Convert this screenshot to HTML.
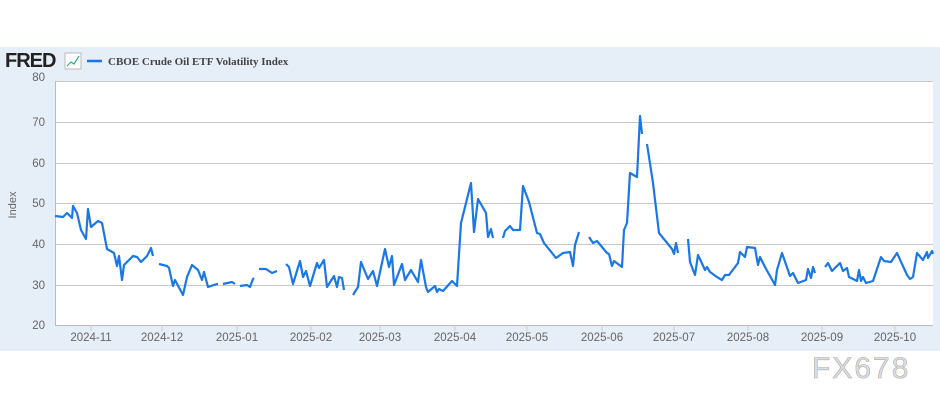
<!DOCTYPE html>
<html><head><meta charset="utf-8"><style>
body{margin:0;width:940px;height:400px;background:#fff;overflow:hidden;font-family:"Liberation Sans",sans-serif;}
</style></head><body>
<svg width="940" height="400" xmlns="http://www.w3.org/2000/svg" style="position:absolute;left:0;top:0">
<rect x="0" y="47" width="940" height="304" fill="#e6eef7"/>
<rect x="55" y="81" width="878" height="244" fill="#fff"/>
<g stroke="#c8c8c8" stroke-width="1">
<line x1="55" x2="933" y1="81.5" y2="81.5"/><line x1="55" x2="933" y1="122.5" y2="122.5"/>
<line x1="55" x2="933" y1="163.5" y2="163.5"/><line x1="55" x2="933" y1="203.5" y2="203.5"/>
<line x1="55" x2="933" y1="244.5" y2="244.5"/><line x1="55" x2="933" y1="285.5" y2="285.5"/>
</g>
<line x1="55.5" x2="55.5" y1="81" y2="325" stroke="#bbb"/>
<line x1="55" x2="933" y1="325.5" y2="325.5" stroke="#bbb"/>
<g stroke="#ccc"><line x1="91" x2="91" y1="325" y2="331"/><line x1="162" x2="162" y1="325" y2="331"/><line x1="237" x2="237" y1="325" y2="331"/><line x1="311" x2="311" y1="325" y2="331"/><line x1="380" x2="380" y1="325" y2="331"/><line x1="455" x2="455" y1="325" y2="331"/><line x1="527" x2="527" y1="325" y2="331"/><line x1="602" x2="602" y1="325" y2="331"/><line x1="674" x2="674" y1="325" y2="331"/><line x1="748" x2="748" y1="325" y2="331"/><line x1="822" x2="822" y1="325" y2="331"/><line x1="895" x2="895" y1="325" y2="331"/></g>
<g font-size="11.5" fill="#666" text-anchor="end">
<text x="45" y="81">80</text><text x="45" y="126">70</text><text x="45" y="167">60</text><text x="45" y="207">50</text><text x="45" y="248">40</text><text x="45" y="289">30</text><text x="45" y="329">20</text></g>
<text transform="translate(16,205) rotate(-90)" font-size="11" fill="#666" text-anchor="middle">Index</text>
<g font-size="11.5" fill="#666" text-anchor="middle">
<text x="91" y="341">2024-11</text><text x="162" y="341">2024-12</text><text x="237" y="341">2025-01</text><text x="311" y="341">2025-02</text><text x="380" y="341">2025-03</text><text x="455" y="341">2025-04</text><text x="527" y="341">2025-05</text><text x="602" y="341">2025-06</text><text x="674" y="341">2025-07</text><text x="748" y="341">2025-08</text><text x="822" y="341">2025-09</text><text x="895" y="341">2025-10</text></g>
<text x="5" y="67" font-size="20" font-weight="bold" fill="#222" letter-spacing="-1">FRED</text>
<rect x="65" y="53" width="16" height="16" fill="#fff" stroke="#bbb"/>
<polyline points="67,66 71,62 74,64 79,56" fill="none" stroke="#3a9" stroke-width="1.2"/>
<line x1="87" x2="102" y1="61" y2="61" stroke="#1a73e8" stroke-width="2.5"/>
<text x="108" y="65" font-family="Liberation Serif" font-weight="bold" font-size="11" fill="#444">CBOE Crude Oil ETF Volatility Index</text>
<g fill="none" stroke="#1a78e6" stroke-width="2.2" stroke-linejoin="round">
<polyline points="55,216 63,217 67,213 72,218 73,206 77,213 81,230 86,239 88,209 91,227 98,221 102,223 107,249 114,253 117,266 119,256 122,280 124,265 133,256 137,257 141,262 147,256 151,248 153,256"/>
<polyline points="159,264 167,266 169,268 173,286 175,280 183,295 187,277 192,265 198,270 202,280 204,272 208,287 217,284 218,284"/>
<polyline points="223,284 232,282 235,284"/>
<polyline points="240,286 247,285 250,287 253,279 254,278"/>
<polyline points="259,269 266,269 272,273 277,271"/>
<polyline points="286,264 289,267 293,284 300,261 303,277 306,271 310,286 317,263 319,268 324,260 327,287 334,276 337,287 339,277 342,278 344,290"/>
<polyline points="353,295 358,287 361,262 368,279 373,271 377,286 385,249 389,267 392,256 394,285 402,264 405,280 411,270 418,282 421,260 426,287 428,292 435,286 437,292 439,289 443,291 452,281 457,286 461,223 471,183 474,232 478,199 486,213 488,237 491,229 493,238"/>
<polyline points="503,238 505,231 510,226 513,230 520,230 523,186 529,202 537,233 540,234 544,243 556,258 563,253 570,252 573,266 575,245 579,232"/>
<polyline points="589,237 593,243 597,241 607,253 609,254 612,266 614,261 622,267 624,230 627,223 630,173 637,177 640,116 642,134"/>
<polyline points="647,144 653,183 659,233 672,249 674,254 676,243 678,253"/>
<polyline points="688,239 690,262 695,275 698,255 705,270 707,267 710,272 717,277 722,280 725,275 729,275 738,263 740,252 745,257 747,247 755,248 758,265 760,257 765,267 775,285 777,270 782,253 790,276 793,273 798,283 806,280 808,269 811,278 813,267 815,273"/>
<polyline points="825,267 828,263 832,271 840,263 843,271 847,268 849,277 857,281 859,270 861,281 863,277 866,283 873,281 881,257 884,261 891,262 897,253 907,275 910,279 913,277 917,253 923,260 927,252 928,258 932,251 933,254"/>
</g>
<text x="812" y="378" font-size="30" fill="#cfe0f2" stroke="#bfa98e" stroke-width="0.6" letter-spacing="2">FX678</text>
</svg>
</body></html>
